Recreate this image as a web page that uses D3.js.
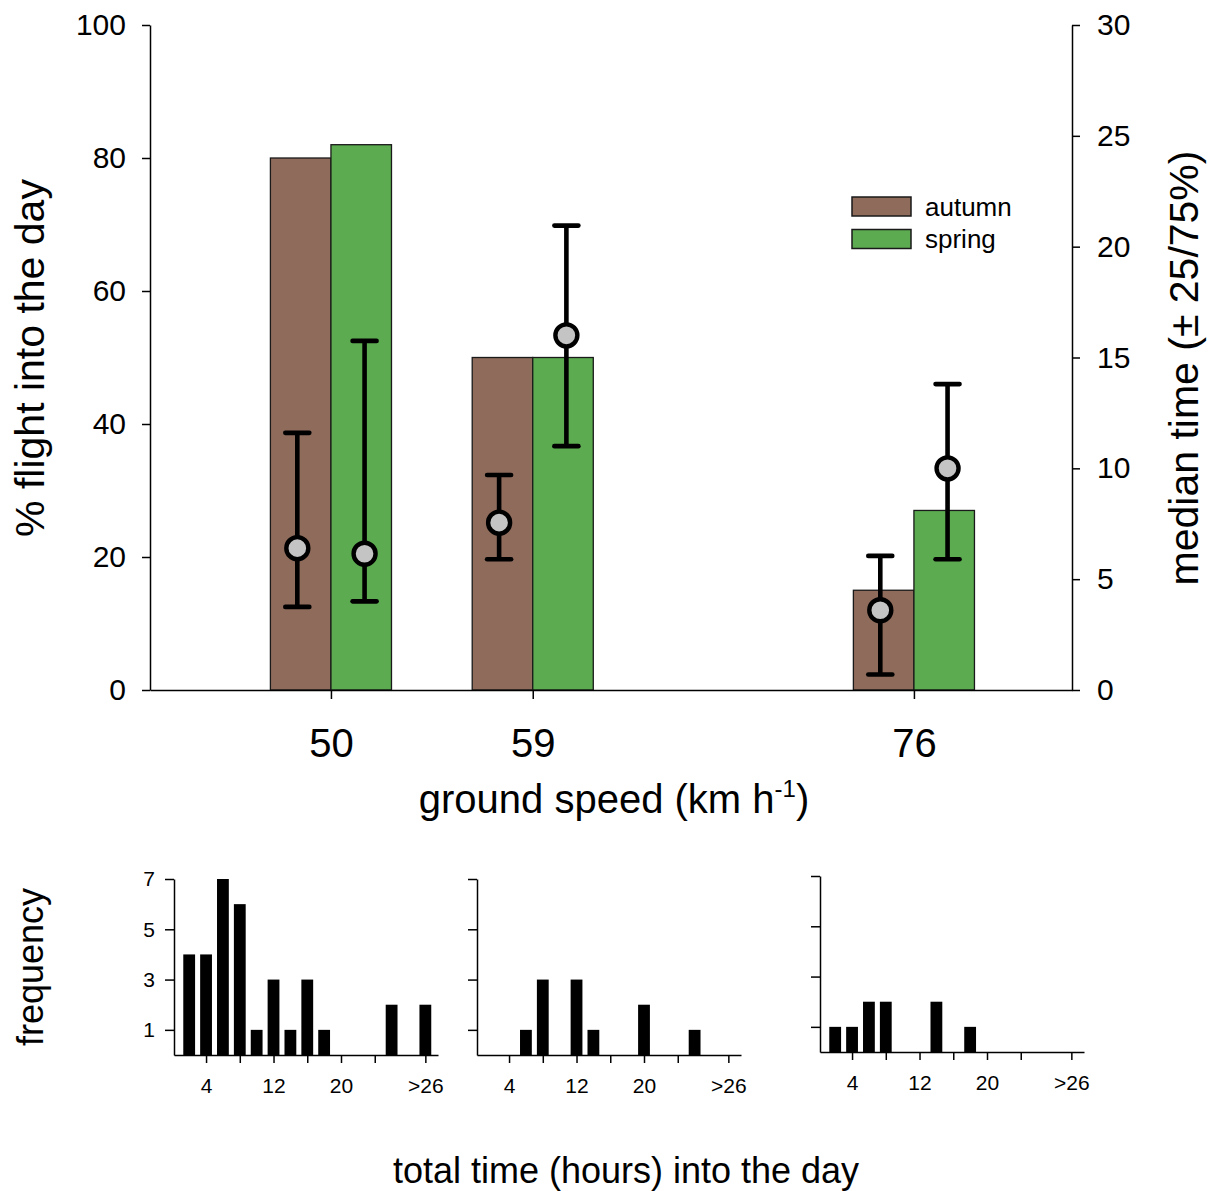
<!DOCTYPE html>
<html>
<head>
<meta charset="utf-8">
<script src="https://cdn.jsdelivr.net/npm/d3@7"></script>
<style>
  body { margin: 0; background: #fff; }
  svg text { font-family: "Liberation Sans", Arial, sans-serif; fill: #000; }
</style>
</head>
<body>
<div id="chart"></div>
<script>
// ---- data ----
const speeds = [50, 59, 76];
const seasons = ["autumn", "spring"];
const pctAutumn = [80, 50, 15];
const pctSpring = [82, 50, 27];
// median time (hours) with 25% / 75% quantiles
const medAutumn = [6.4, 7.55, 3.6];
const loAutumn = [3.75, 5.9, 0.7];
const hiAutumn = [11.6, 9.7, 6.05];
const medSpring = [6.15, 16.0, 10.0];
const loSpring = [4.0, 11.0, 5.9];
const hiSpring = [15.75, 20.95, 13.8];

const leftTicks = [0, 20, 40, 60, 80, 100];
const rightTicks = [0, 5, 10, 15, 20, 25, 30];

// histograms: total time into the day
const histBins = ["2","4","6","8","10","12","14","16","18","20","22","24","26",">26"];
const freq50 = [4, 4, 7, 6, 1, 3, 1, 3, 1, 0, 0, 0, 2, 2];
const freq59 = [0, 0, 1, 3, 0, 3, 1, 0, 0, 2, 0, 0, 1, 0];
const freq76 = [1, 1, 2, 2, 0, 0, 2, 0, 1, 0, 0, 0, 0, 0];
const histXTicks = ["4","8","12","16","20","24",">26"];
const histXLabels = ["4", "12", "20", ">26"];
const histYTicks = [1, 3, 5, 7];

const colors = {autumn: "#8e6b5b", spring: "#5cab50"};

const W = 1211, H = 1191;
const svg = d3.select("#chart").append("svg")
    .attr("width", W).attr("height", H);

// ---- main chart ----
const x = d3.scaleLinear().domain([41.93, 83.05]).range([150, 1072]);
const yL = d3.scaleLinear().domain([0, 100]).range([690, 25]);
const yR = d3.scaleLinear().domain([0, 30]).range([690, 25]);
const barW = 2.7;   // in km/h
const ptOff = 1.5;  // in km/h

const main = svg.append("g");

const rows = speeds.map((s, i) => ({
    speed: s,
    autumn: {pct: pctAutumn[i], med: medAutumn[i], lo: loAutumn[i], hi: hiAutumn[i]},
    spring: {pct: pctSpring[i], med: medSpring[i], lo: loSpring[i], hi: hiSpring[i]}
}));

rows.forEach(r => {
    seasons.forEach((s, k) => {
        const x0 = k == 0 ? x(r.speed - barW) : x(r.speed);
        const x1 = k == 0 ? x(r.speed) : x(r.speed + barW);
        main.append("rect")
            .attr("x", x0).attr("y", yL(r[s].pct))
            .attr("width", x1 - x0).attr("height", yL(0) - yL(r[s].pct))
            .attr("fill", colors[s])
            .attr("stroke", "#1a1a1a").attr("stroke-width", 1.3);
    });
});

// axes
const axL = main.append("g").attr("transform", "translate(150,0)")
    .call(d3.axisLeft(yL).tickValues(leftTicks).tickSize(8).tickPadding(16).tickSizeOuter(0));
const axR = main.append("g").attr("transform", "translate(1072,0)")
    .call(d3.axisRight(yR).tickValues(rightTicks).tickSize(8).tickPadding(17).tickSizeOuter(0));
const axB = main.append("g").attr("transform", "translate(0,690)")
    .call(d3.axisBottom(x).tickValues(speeds).tickSize(9).tickPadding(30).tickSizeOuter(0));
[axL, axR].forEach(a => a.selectAll("text").style("font-size", "30px"));
axB.selectAll("text").style("font-size", "40px");
[axL, axR, axB].forEach(a => {
    a.select(".domain").attr("stroke-width", 1.5);
    a.selectAll(".tick line").attr("stroke-width", 1.5);
    a.selectAll("text").attr("font-family", null);
});

// error bars + medians
rows.forEach(r => {
    seasons.forEach((s, k) => {
        const cx = x(r.speed + (k == 0 ? -ptOff : ptOff));
        const d = r[s];
        const g = main.append("g").attr("stroke", "#000").attr("stroke-width", 4.6);
        g.append("line").attr("x1", cx).attr("x2", cx).attr("y1", yR(d.lo)).attr("y2", yR(d.hi));
        [d.lo, d.hi].forEach(v => {
            g.append("line").attr("x1", cx - 12).attr("x2", cx + 12)
                .attr("y1", yR(v)).attr("y2", yR(v)).attr("stroke-linecap", "round");
        });
        g.append("circle").attr("cx", cx).attr("cy", yR(d.med)).attr("r", 11)
            .attr("fill", "#c4c4c4").attr("stroke-width", 4.4);
    });
});

// axis titles
main.append("text")
    .attr("transform", "translate(44,358) rotate(-90)")
    .attr("text-anchor", "middle").style("font-size", "41px")
    .text("% flight into the day");
main.append("text")
    .attr("transform", "translate(1198,368) rotate(-90)")
    .attr("text-anchor", "middle").style("font-size", "41px")
    .text("median time (± 25/75%)");
const xt = main.append("text")
    .attr("x", 614).attr("y", 813)
    .attr("text-anchor", "middle").style("font-size", "40px");
xt.append("tspan").text("ground speed (km h");
xt.append("tspan").attr("dy", -16).style("font-size", "24px").text("-1");
xt.append("tspan").attr("dy", 16).text(")");

// legend
const leg = main.append("g");
seasons.forEach((s, k) => {
    leg.append("rect")
        .attr("x", 852).attr("y", 197 + k * 32.5)
        .attr("width", 59).attr("height", 19)
        .attr("fill", colors[s]).attr("stroke", "#1a1a1a").attr("stroke-width", 1.5);
    leg.append("text")
        .attr("x", 925).attr("y", 216 + k * 32)
        .style("font-size", "26px").text(s);
});

// ---- histograms ----
function binVal(b) { return b == ">26" ? 30 : +b; }
const hx = d3.scaleLinear().domain([0.2, 31.5]).range([0, 264]);
const hy = d3.scaleLinear().domain([0, 7]).range([176, 0]);
const histBarW = 1.4;

const panels = [
    {freq: freq50, left: 174, top: 879, labels: true},
    {freq: freq59, left: 477, top: 879, labels: false},
    {freq: freq76, left: 820, top: 876, labels: false}
];

panels.forEach(p => {
    const g = svg.append("g").attr("transform", `translate(${p.left},${p.top})`);
    g.selectAll("rect.hbar")
        .data(histBins.map((b, i) => ({bin: b, n: p.freq[i]})).filter(d => d.n > 0))
        .enter().append("rect")
        .attr("class", "hbar")
        .attr("x", d => hx(binVal(d.bin) - histBarW / 2))
        .attr("width", hx(histBarW) - hx(0))
        .attr("y", d => hy(d.n))
        .attr("height", d => hy(0) - hy(d.n))
        .attr("fill", "#000");

    const ya = g.append("g")
        .call(d3.axisLeft(hy).tickValues(histYTicks).tickSize(9).tickPadding(10).tickSizeOuter(0)
            .tickFormat(p.labels ? d3.format("d") : ""));
    const xa = g.append("g").attr("transform", "translate(0,176)")
        .call(d3.axisBottom(hx).tickValues(histXTicks.map(binVal)).tickSize(8).tickPadding(15).tickSizeOuter(0)
            .tickFormat((d, i) => histXLabels.includes(histXTicks[i]) ? histXTicks[i] : ""));
    [ya, xa].forEach(a => {
        a.select(".domain").attr("stroke-width", 1.5);
        a.selectAll(".tick line").attr("stroke-width", 1.5);
        a.selectAll("text").attr("font-family", null).style("font-size", "21px");
    });
});

svg.append("text")
    .attr("transform", "translate(43,967) rotate(-90)")
    .attr("text-anchor", "middle").style("font-size", "36px")
    .text("frequency");
svg.append("text")
    .attr("x", 626).attr("y", 1183)
    .attr("text-anchor", "middle").style("font-size", "36px")
    .text("total time (hours) into the day");
</script>
</body>
</html>
